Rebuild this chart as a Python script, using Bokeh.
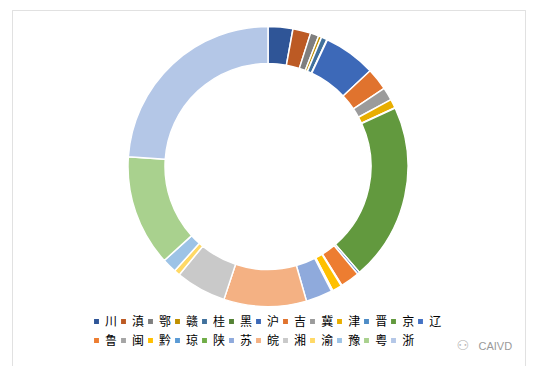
import math
from bokeh.plotting import figure
from bokeh.models import ColumnDataSource, Legend, LegendItem, Label, BoxAnnotation
from bokeh.embed import file_html
from bokeh.resources import INLINE

provinces = ["川", "滇", "鄂", "赣", "桂", "黑", "沪", "吉", "冀", "津", "晋", "京", "辽",
             "鲁", "闽", "黔", "琼", "陕", "苏", "皖", "湘", "渝", "豫", "粤", "浙"]
shares = [2.86, 2.06, 0.97, 0.36, 0.67, 0.06, 6.03, 2.56, 1.50, 1.03, 0.06, 20.50, 0.28,
          2.22, 0.08, 1.11, 0.08, 0.08, 3.06, 9.53, 5.83, 0.69, 1.67, 12.83, 23.89]
colors = ["#2F5597", "#BC5A24", "#7F7F7F", "#BF9000", "#41719C", "#548235", "#3D69B8",
          "#E0732E", "#9B9B9B", "#E8AE00", "#4E8CC6", "#62993E", "#4472C4",
          "#ED7D31", "#A5A5A5", "#FFC000", "#5B9BD5", "#70AD47", "#8FAADC", "#F4B183",
          "#C9C9C9", "#FFD966", "#9DC3E6", "#A9D18E", "#B4C7E7"]

W, H = 533, 366
total = sum(shares)
starts, ends = [], []
acc = 0.0
for v in shares:
    a0 = math.pi / 2 - 2 * math.pi * acc / total
    acc += v
    a1 = math.pi / 2 - 2 * math.pi * acc / total
    starts.append(a1)
    ends.append(a0)

src = ColumnDataSource(dict(start=starts, end=ends, color=colors, name=provinces))

p = figure(width=W, height=H, x_range=(0, W), y_range=(0, H), output_backend="svg",
           toolbar_location=None, min_border=0)
p.axis.visible = False
p.grid.visible = False
p.outline_line_color = None
p.background_fill_color = "white"
p.border_fill_color = "white"

p.add_layout(BoxAnnotation(left=12, right=525, top=356, bottom=-10,
                           fill_alpha=0, line_color="#9A9A9A", line_width=1))

cx, cy = 267.5, 200
r = p.annular_wedge(x=cx, y=cy, inner_radius=103, outer_radius=140,
                    start_angle="start", end_angle="end", fill_color="color",
                    line_color="white", line_width=1.5, source=src)

ncols = 13
n = len(provinces)
order = []
for c in range(ncols):
    for row in range(2):
        i = row * ncols + c
        if i < n:
            order.append(i)
items = [LegendItem(label=provinces[i], renderers=[r], index=i) for i in order]
legend = Legend(items=items, ncols=ncols, location=(92, 18),
                glyph_width=8, glyph_height=8, label_standoff=5,
                label_width=12, label_height=14, spacing=2, padding=0, margin=0,
                label_text_font="Noto Sans CJK SC", label_text_font_size="12px",
                label_text_color="#000000",
                border_line_alpha=0, background_fill_alpha=0)
p.add_layout(legend, "center")

p.add_layout(Label(x=478, y=15, text="CAIVD", text_font="Liberation Sans",
                   text_font_size="11px", text_color="#9A9A9A"))
p.add_layout(Label(x=456, y=14, text="⚇", text_font="DejaVu Sans",
                   text_font_size="14px", text_color="#B0B0B0"))

open("out.html", "w").write(file_html(p, INLINE))
